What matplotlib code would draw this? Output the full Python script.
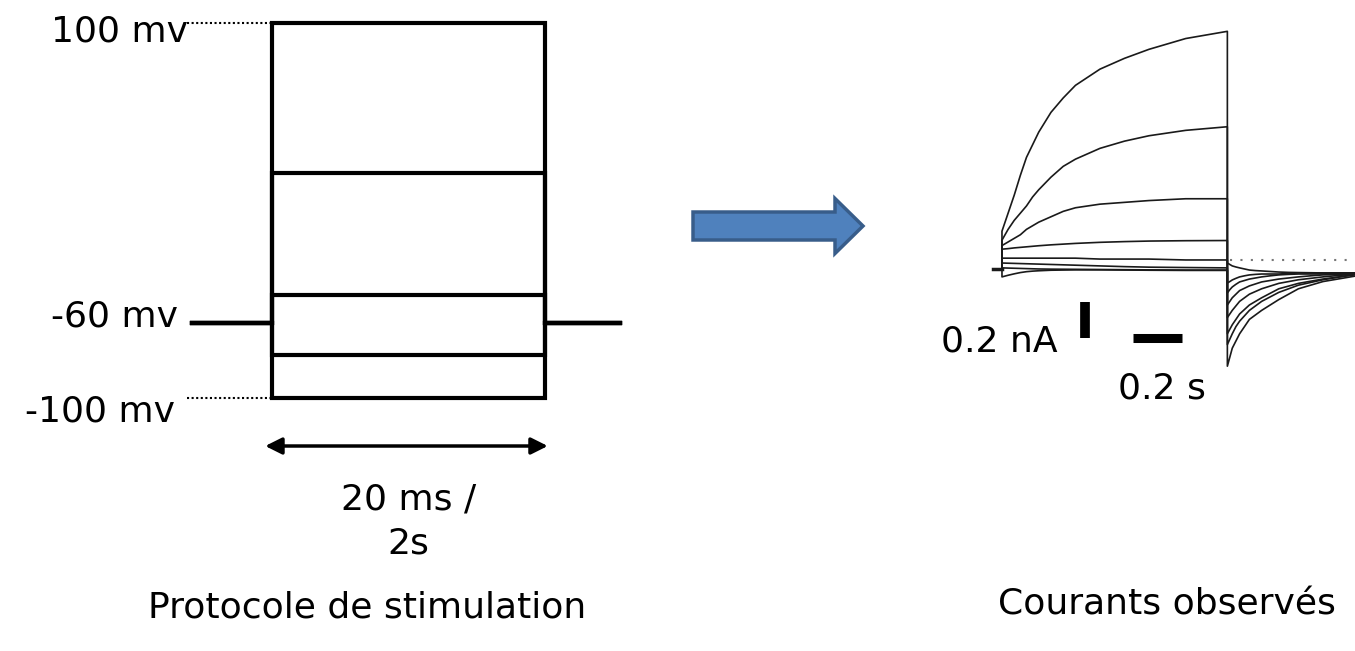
import numpy as np
import matplotlib
matplotlib.use("Agg")
import matplotlib.pyplot as plt
from matplotlib.patches import FancyArrow

plt.rcParams['font.family'] = ['DejaVu Sans']

#%%---------------------------------------------------------------- protocole
# niveaux de tension (mV) et durees (ms)
v_hold = -60.
v_steps = [100., 20., -45., -77., -100.]
t_pre, t_pulse, t_post = -5.9, 20., 25.5

#%%---------------------------------------------------------------- courants
# temps (s) pendant l'echelon et pendant la queue
t_hold = [-0.037, 0.]
t_step = [0., 0.025, 0.05, 0.075, 0.1, 0.125, 0.15, 0.2, 0.25, 0.3, 0.4, 0.5, 0.6, 0.75, 0.92]
t_tail = [0.92, 0.93, 0.94, 0.955, 0.97, 0.99, 1.01, 1.035, 1.06, 1.095, 1.13, 1.17, 1.21, 1.26, 1.31, 1.44]

# courant (nA) pendant l'echelon
i_step = [
    [0.21, 0.31, 0.41, 0.52, 0.62, 0.69, 0.76, 0.87, 0.95, 1.02, 1.11, 1.17, 1.22, 1.28, 1.32],
    [0.16, 0.22, 0.27, 0.31, 0.35, 0.40, 0.44, 0.51, 0.57, 0.61, 0.67, 0.71, 0.74, 0.77, 0.79],
    [0.13, 0.15, 0.17, 0.19, 0.22, 0.24, 0.26, 0.29, 0.32, 0.34, 0.36, 0.37, 0.38, 0.39, 0.39],
    [0.11, 0.113, 0.117, 0.12, 0.123, 0.126, 0.129, 0.134, 0.138, 0.142, 0.148, 0.152, 0.155, 0.157, 0.158],
    [0.06, 0.06, 0.06, 0.06, 0.06, 0.06, 0.06, 0.06, 0.06, 0.06, 0.055, 0.055, 0.055, 0.05, 0.05],
    [0.033, 0.032, 0.031, 0.03, 0.029, 0.028, 0.027, 0.025, 0.023, 0.021, 0.017, 0.013, 0.01, 0.008, 0.006],
    [0.006, 0.005, 0.004, 0.003, 0.002, 0.001, 0., -0.001, -0.0015, -0.002, -0.003, -0.004, -0.005, -0.006, -0.006],
    [-0.044, -0.035, -0.027, -0.02, -0.015, -0.012, -0.01, -0.007, -0.006, -0.005, -0.005, -0.006, -0.007, -0.008, -0.008],
]
# courant de queue (nA) apres retour a -60 mV
i_tail = [
    [-0.54, -0.49, -0.44, -0.40, -0.36, -0.32, -0.28, -0.255, -0.23, -0.20, -0.17, -0.14, -0.11, -0.09, -0.07, -0.04],
    [-0.42, -0.39, -0.36, -0.32, -0.29, -0.26, -0.23, -0.205, -0.18, -0.155, -0.13, -0.11, -0.09, -0.075, -0.06, -0.03],
    [-0.36, -0.335, -0.31, -0.28, -0.25, -0.225, -0.20, -0.18, -0.16, -0.135, -0.11, -0.095, -0.08, -0.068, -0.056, -0.033],
    [-0.27, -0.25, -0.23, -0.205, -0.18, -0.16, -0.14, -0.125, -0.11, -0.095, -0.08, -0.07, -0.06, -0.052, -0.044, -0.028],
    [0.033, 0.025, 0.017, 0.011, 0.006, 0., -0.006, -0.009, -0.011, -0.014, -0.017, -0.019, -0.02, -0.021, -0.022, -0.022],
    [-0.2, -0.18, -0.16, -0.14, -0.12, -0.107, -0.094, -0.083, -0.072, -0.064, -0.056, -0.05, -0.044, -0.038, -0.033, -0.028],
    [-0.133, -0.115, -0.1, -0.085, -0.072, -0.064, -0.056, -0.05, -0.044, -0.038, -0.033, -0.03, -0.028, -0.028, -0.028, -0.022],
    [-0.078, -0.07, -0.061, -0.052, -0.044, -0.038, -0.033, -0.03, -0.028, -0.028, -0.028, -0.025, -0.022, -0.022, -0.022, -0.022],
]
i_ref = 0.05
t_ref = [0.93, 1.44]

# barres d'echelle
bar_nA = 0.2
bar_s = 0.2

#%%----------------------------------------------------------------------------
fig = plt.figure(figsize=(13.55, 6.51), dpi=100)
ax_v = fig.add_axes([0, 0, 1, 1])
ax_i = fig.add_axes([0, 0, 1, 1])
for ax in (ax_v, ax_i):
    ax.set_axis_off()
    ax.patch.set_alpha(0)

ax_v.set_xlim(-19.93, 79.34)
ax_v.set_ylim(-234.93, 112.27)
ax_i.set_xlim(-4.090, 1.441)
ax_i.set_ylim(-2.122, 1.494)

fs = 26

# protocole de stimulation
for v in v_steps:
    ax_v.plot([t_pre, 0, 0, t_pulse, t_pulse, t_post],
              [v_hold, v_hold, v, v, v_hold, v_hold],
              color='k', lw=3, solid_joinstyle='miter')
for v in (v_steps[0], v_steps[-1]):
    ax_v.plot([-6.2, 0], [v, v], color='k', lw=1.5, ls=(0, (1, 1.2)))

ax_v.text(-6.15, 89.9, '100 mv', ha='right', va='baseline', fontsize=fs)
ax_v.text(-6.9, -62.1, '-60 mv', ha='right', va='baseline', fontsize=fs)
ax_v.text(-7.1, -112.3, '-100 mv', ha='right', va='baseline', fontsize=fs)

ax_v.annotate('', xy=(20.2, -125.6), xytext=(-0.5, -125.6),
              arrowprops=dict(arrowstyle='<|-|>', lw=2.5, color='k',
                              mutation_scale=25, shrinkA=0, shrinkB=0))
ax_v.text(10, -159.7, '20 ms /', ha='center', va='baseline', fontsize=fs)
ax_v.text(10, -182.7, '2s', ha='center', va='baseline', fontsize=fs)
ax_v.text(7, -216.8, 'Protocole de stimulation', ha='center', va='baseline', fontsize=fs)

# fleche entre les deux panneaux
fig.add_artist(FancyArrow(6.93, 4.25, 1.70, 0, width=0.28, head_width=0.55,
                          head_length=0.28, length_includes_head=True,
                          transform=fig.dpi_scale_trans,
                          fc='#4F81BD', ec='#385D8A', lw=2.5))

# courants enregistres
for ist, itl in zip(i_step, i_tail):
    t = t_hold + t_step + t_tail
    y = [0., 0.] + ist + itl
    ax_i.plot(t, y, color='#1a1a1a', lw=1.2)
ax_i.plot(t_hold, [0, 0], color='#1a1a1a', lw=2.5)
ax_i.plot(t_ref, [i_ref, i_ref], color='#777777', lw=1.5, ls=(0, (1, 4)))

# barres d'echelle
y0 = -0.383
ax_i.plot([0.339, 0.339], [y0 + bar_nA, y0], color='k', lw=7, solid_capstyle='butt')
ax_i.plot([0.535, 0.535 + bar_s], [y0, y0], color='k', lw=6.5, solid_capstyle='butt')
ax_i.text(0.229, -0.461, '0.2 nA', ha='right', va='baseline', fontsize=fs)
ax_i.text(0.653, -0.717, '0.2 s', ha='center', va='baseline', fontsize=fs)
ax_i.text(0.673, -1.922, 'Courants observés', ha='center', va='baseline', fontsize=fs)

fig.savefig('out.png', dpi=100, facecolor='white')
